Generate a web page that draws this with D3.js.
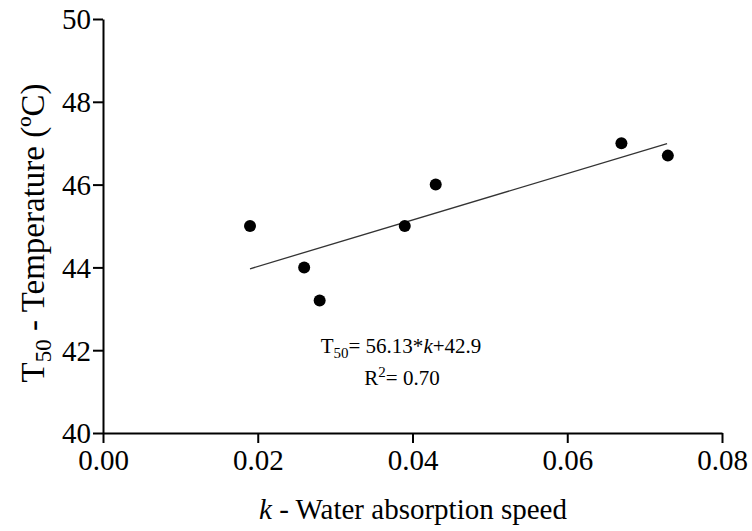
<!DOCTYPE html>
<html>
<head>
<meta charset="utf-8">
<script src="https://cdn.jsdelivr.net/npm/d3@7"></script>
<style>
  body { margin: 0; background: #fff; }
</style>
</head>
<body>
<div id="chart"></div>
<script>
// data
const kValues = [0.019, 0.026, 0.028, 0.039, 0.043, 0.067, 0.073];
const t50Values = [45.0, 44.0, 43.2, 45.0, 46.0, 47.0, 46.7];
const xTicks = [0.00, 0.02, 0.04, 0.06, 0.08];
const yTicks = [40, 42, 44, 46, 48, 50];
const fitSlope = 56.13;
const fitIntercept = 42.9;
const fitRange = [0.019, 0.0729];

const FONT = "'Liberation Serif', 'Times New Roman', serif";
const width = 752, height = 531;
const svg = d3.select('#chart').append('svg')
    .attr('width', width)
    .attr('height', height)
    .style('font-family', FONT);

const x = d3.scaleLinear().domain([0, 0.08]).range([103, 722]);
const y = d3.scaleLinear().domain([40, 50]).range([433, 19]);

// axes
const xAxis = svg.append('g')
    .attr('transform', `translate(0,${y(40)})`)
    .call(d3.axisBottom(x).tickValues(xTicks).tickFormat(d3.format('.2f')).tickSize(10).tickSizeOuter(0));
const yAxis = svg.append('g')
    .attr('transform', `translate(${x(0)},0)`)
    .call(d3.axisLeft(y).tickValues(yTicks).tickSize(10).tickSizeOuter(0));

[xAxis, yAxis].forEach(a => {
    a.attr('font-family', null).attr('font-size', null);
    a.select('.domain').attr('stroke', '#000').attr('stroke-width', 2);
    a.selectAll('.tick line').attr('stroke', '#000').attr('stroke-width', 2);
    a.selectAll('.tick text')
        .style('font-family', FONT)
        .style('font-size', '29px')
        .attr('fill', '#000');
});
xAxis.selectAll('.tick text').attr('dy', '0.95em').attr('y', 9);
yAxis.selectAll('.tick text').attr('x', -12).attr('dy', '0.34em');

// regression line
svg.append('line')
    .attr('x1', x(fitRange[0])).attr('y1', y(fitSlope * fitRange[0] + fitIntercept))
    .attr('x2', x(fitRange[1])).attr('y2', y(fitSlope * fitRange[1] + fitIntercept))
    .attr('stroke', '#333')
    .attr('stroke-width', 1.3);

// points
svg.selectAll('circle.pt')
    .data(kValues)
    .enter()
    .append('circle')
    .attr('class', 'pt')
    .attr('cx', d => x(d))
    .attr('cy', (d, i) => y(t50Values[i]))
    .attr('r', 6)
    .attr('fill', '#000');

// equation
const eq = svg.append('text')
    .attr('x', 401).attr('y', 353)
    .attr('text-anchor', 'middle')
    .style('font-family', FONT)
    .style('font-size', '21px');
eq.append('tspan').text('T');
eq.append('tspan').attr('dy', 5).style('font-size', '15px').text('50');
eq.append('tspan').attr('dy', -5).text('= 56.13*');
eq.append('tspan').style('font-style', 'italic').text('k');
eq.append('tspan').text('+42.9');

const r2 = svg.append('text')
    .attr('x', 402).attr('y', 385)
    .attr('text-anchor', 'middle')
    .style('font-family', FONT)
    .style('font-size', '21px');
r2.append('tspan').text('R');
r2.append('tspan').attr('dy', -8).style('font-size', '15px').text('2');
r2.append('tspan').attr('dy', 8).text('= 0.70');

// axis titles
const xt = svg.append('text')
    .attr('x', 413).attr('y', 519)
    .attr('text-anchor', 'middle')
    .style('font-family', FONT)
    .style('font-size', '29px');
xt.append('tspan').style('font-style', 'italic').text('k');
xt.append('tspan').text(' - Water absorption speed');

const yt = svg.append('text')
    .attr('transform', `translate(44,233) rotate(-90)`)
    .attr('text-anchor', 'middle')
    .style('font-family', FONT)
    .style('font-size', '33px');
yt.append('tspan').text('T');
yt.append('tspan').attr('dy', 7).style('font-size', '23px').text('50');
yt.append('tspan').attr('dy', -7).text(' - Temperature (ºC)');
</script>
</body>
</html>
